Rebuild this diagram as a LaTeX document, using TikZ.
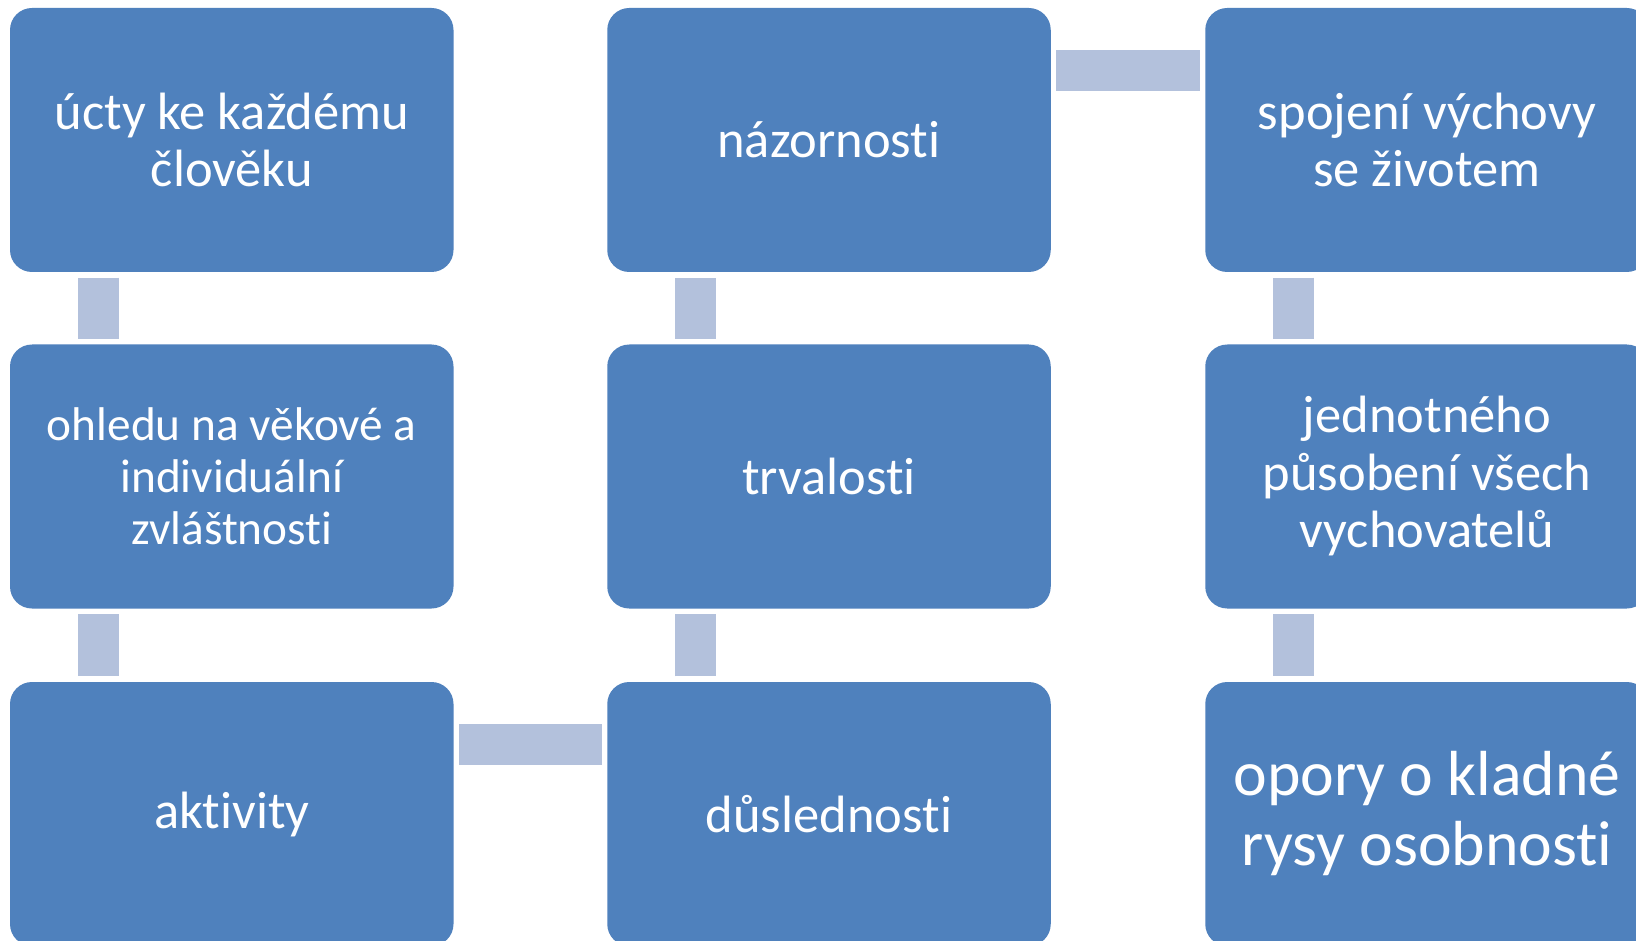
\documentclass[tikz,border=0pt]{standalone}
\usepackage{fontspec}
\setmainfont{Carlito}[Ligatures=NoCommon]
\definecolor{boxblue}{RGB}{79,129,189}
\definecolor{connblue}{RGB}{179,193,220}
\tikzset{
  pbox/.style={fill=boxblue, rounded corners=22pt, minimum width=443.5pt, minimum height=264pt,
    inner sep=0pt, align=center, text=white, font=\fontsize{52.5}{57.5}\selectfont},
  smalltext/.style={font=\fontsize{47.3}{52}\selectfont},
  bigtext/.style={font=\fontsize{63.7}{70}\selectfont},
  conn/.style={draw=connblue, line width=41pt, shorten <=5.5pt, shorten >=5.5pt}
}
\begin{document}
\begin{tikzpicture}[x=1pt,y=-1pt]
\useasboundingbox (0,0) rectangle (1636,941);
\fill[white] (0,0) rectangle (1636,941);
\clip (0,0) rectangle (1636,941);
% column 1
\node[pbox] (a1) at (231.75,140) {úcty ke každému\\člověku};
\node[pbox, smalltext] (a2) at (231.75,476.5) {ohledu na věkové a\\individuální\\zvláštnosti};
\node[pbox] (a3) at (231.75,814) {aktivity};
% column 2
\node[pbox] (b1) at (829,140) {názornosti};
\node[pbox] (b2) at (829,476.5) {trvalosti};
\node[pbox] (b3) at (829,814) {důslednosti};
% column 3
\node[pbox] (c1) at (1427,140) {spojení výchovy\\se životem};
\node[pbox] (c2) at (1427,476.5) {jednotného\\působení všech\\vychovatelů};
\node[pbox, bigtext] (c3) at (1427,814) {opory o kladné\\rysy osobnosti};
% connectors
\draw[conn] ([xshift=88.5pt]a1.south west) -- ([xshift=88.5pt]a2.north west);
\draw[conn] ([xshift=88.5pt]a2.south west) -- ([xshift=88.5pt]a3.north west);
\draw[conn] ([yshift=-62.5pt]a3.north east) -- ([yshift=-62.5pt]b3.north west);
\draw[conn] ([xshift=88.5pt]b3.north west) -- ([xshift=88.5pt]b2.south west);
\draw[conn] ([xshift=88.5pt]b2.north west) -- ([xshift=88.5pt]b1.south west);
\draw[conn] ([yshift=-63pt]b1.north east) -- ([yshift=-63pt]c1.north west);
\draw[conn] ([xshift=88.5pt]c1.south west) -- ([xshift=88.5pt]c2.north west);
\draw[conn] ([xshift=88.5pt]c2.south west) -- ([xshift=88.5pt]c3.north west);
\end{tikzpicture}
\end{document}
